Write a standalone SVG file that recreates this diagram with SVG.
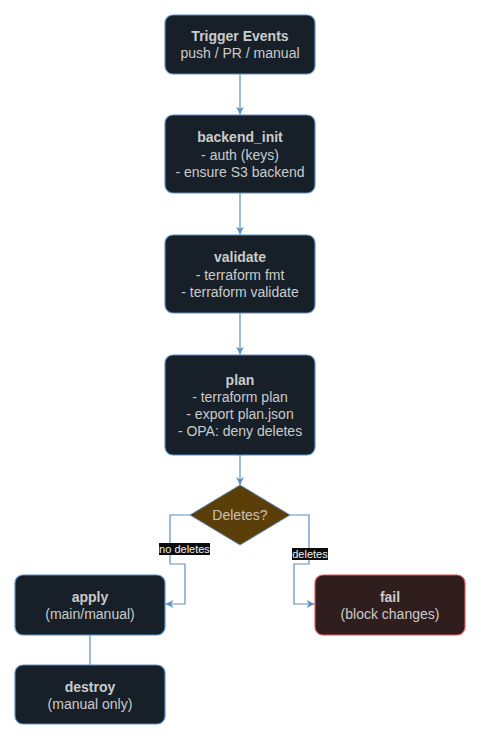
<svg xmlns="http://www.w3.org/2000/svg" width="481" height="742" viewBox="0 0 481 742">
<defs>
<style>
.node rect{fill:#172028;stroke:#5a8fc4;stroke-width:1.2}
.fail rect{fill:#301e1f;stroke:#e05555;stroke-width:1.2}
text{font-family:"Liberation Sans",Arial,sans-serif;font-size:14px;fill:#cbcbcb;text-anchor:middle;dominant-baseline:central}
.t{font-weight:bold}
.edge{fill:none;stroke:#5a8fc4;stroke-width:1.2}
.lbl rect{fill:#0c0c0c}
.lbl text{font-size:11px;fill:#f0f0f0}
</style>
<marker id="arr" viewBox="0 0 10 10" refX="10" refY="5" markerWidth="8" markerHeight="8" markerUnits="userSpaceOnUse" orient="auto">
<path d="M0,0 L10,5 L0,10 L3,5 z" fill="#5a8fc4"/>
</marker>
</defs>
<rect width="481" height="742" fill="#ffffff"/>
<g id="connectors">
<path class="edge" d="M240,74 V114.5" marker-end="url(#arr)"/>
<path class="edge" d="M240,193 V234.5" marker-end="url(#arr)"/>
<path class="edge" d="M240,313 V354.5" marker-end="url(#arr)"/>
<path class="edge" d="M240,455 V485" marker-end="url(#arr)"/>
<path class="edge" d="M190,515 H170 V564 H185 V604 H165.5" marker-end="url(#arr)"/>
<path class="edge" d="M290,515 H309 V564 H294 V604 H314.5" marker-end="url(#arr)"/>
<path class="edge" d="M90,635 V665"/>
<g class="lbl"><rect x="159" y="543" width="51" height="12"/><text x="184.5" y="549">no deletes</text></g>
<g class="lbl"><rect x="292" y="548" width="36" height="12"/><text x="310" y="554">deletes</text></g>
</g>
<g id="trigger" class="node"><rect x="165" y="15" width="150" height="59" rx="8"/><text class="t" x="240" y="36">Trigger Events</text><text x="240" y="53">push / PR / manual</text></g>
<g id="backend_init" class="node"><rect x="165" y="115" width="150" height="78" rx="8"/><text class="t" x="240" y="137">backend_init</text><text x="240" y="154.5">- auth (keys)</text><text x="240" y="172">- ensure S3 backend</text></g>
<g id="validate" class="node"><rect x="165" y="235" width="150" height="78" rx="8"/><text class="t" x="240" y="257">validate</text><text x="240" y="274.5">- terraform fmt</text><text x="240" y="292">- terraform validate</text></g>
<g id="plan" class="node"><rect x="165" y="355" width="150" height="100" rx="8"/><text class="t" x="240" y="379.5">plan</text><text x="240" y="396.5">- terraform plan</text><text x="240" y="413.5">- export plan.json</text><text x="240" y="430.5">- OPA: deny deletes</text></g>
<g id="deletes"><polygon points="240,485 290,515 240,545 190,515" fill="#5c3f08" stroke="#5a8fc4" stroke-width="1"/><text x="240" y="515" style="fill:#c9c3b6">Deletes?</text></g>
<g id="apply" class="node"><rect x="15" y="575" width="150" height="60" rx="8"/><text class="t" x="90" y="597">apply</text><text x="90" y="614">(main/manual)</text></g>
<g id="destroy" class="node"><rect x="15" y="665" width="150" height="59" rx="8"/><text class="t" x="90" y="687">destroy</text><text x="90" y="704">(manual only)</text></g>
<g id="fail" class="fail"><rect x="315" y="575" width="150" height="60" rx="8"/><text class="t" x="390" y="597">fail</text><text x="390" y="614">(block changes)</text></g>
</svg>
